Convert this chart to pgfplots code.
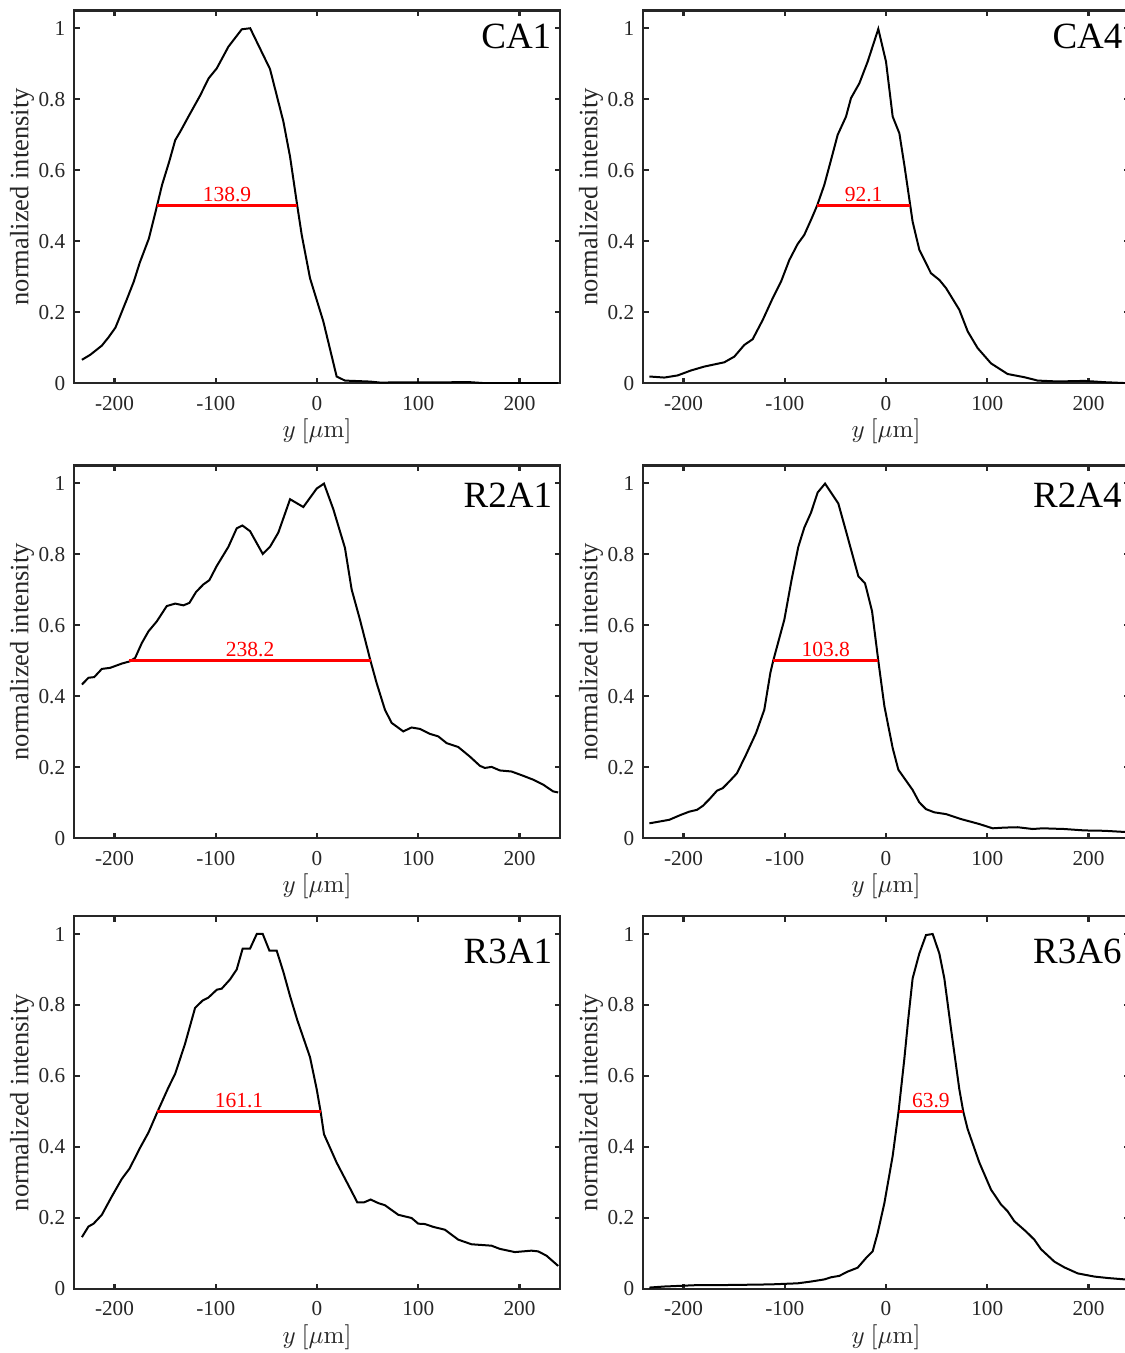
\documentclass[border=0pt]{standalone}
\usepackage[no-math]{fontspec}
\setmainfont{Liberation Serif}
\usepackage{pgfplots}
\pgfplotsset{compat=1.18}
\definecolor{axgray}{rgb}{0.15,0.15,0.15}
\pgfplotsset{
  panel/.style={
    scale only axis, width=194.4pt, height=149.1pt, anchor=south west,
    xmin=-240, xmax=240, ymin=0, ymax=1.05,
    xtick={-200,-100,0,100,200}, xticklabels={-200,-100,0,100,200},
    ytick={0,0.2,0.4,0.6,0.8,1}, yticklabels={0,0.2,0.4,0.6,0.8,1},
    tick align=inside, tick pos=both, major tick length=2.2pt,
    axis line style={axgray, line width=0.9pt},
    every tick/.style={axgray, line width=0.9pt},
    tick label style={font=\fontsize{8.5}{10}\selectfont, text=axgray},
    xticklabel style={yshift=-1.6pt},
    xlabel={$y\ [\mu\mathrm{m}]$},
    xlabel style={at={(axis description cs:0.5,-0.129)}, anchor=center, font=\fontsize{9.7}{11}\selectfont, text=axgray},
    ylabel={normalized intensity},
    ylabel style={at={(axis description cs:-0.107,0.5)}, anchor=center, font=\fontsize{10.6}{12}\selectfont, text=axgray},
  },
  curve/.style={black, line width=0.8pt, no markers, sharp plot},
  fwhm/.style={red, line width=1.1pt, no markers},
}
\tikzset{ttlnode/.style={anchor=base west, inner sep=0pt, font=\fontsize{14.8}{17}\selectfont}}
\newcommand{\lbl}{\fontsize{8.6}{10}\selectfont}
\begin{document}
\begin{tikzpicture}
\useasboundingbox (0,0) rectangle (450pt,541.2pt);
\clip (0,0) rectangle (450pt,541.2pt);
% ---------------- CA1
\begin{axis}[panel, at={(29.6pt,387.9pt)}]
\addplot[curve] coordinates {(-232.2,0.066)(-224,0.080)(-212.5,0.106)(-206,0.129)(-199,0.157)(-188,0.235)(-181,0.286)(-175,0.340)(-166,0.408)(-158,0.5)(-153,0.559)(-146,0.624)(-140,0.685)(-135,0.709)(-127,0.751)(-115.5,0.810)(-107,0.859)(-99,0.887)(-87.5,0.948)(-74.3,0.997)(-66,1.0)(-46.4,0.885)(-33.2,0.737)(-26.6,0.638)(-19.6,0.502)(-15.1,0.418)(-6.9,0.296)(6.25,0.174)(19.4,0.019)(27.6,0.0075)(52.3,0.0047)(62,0.002)(151,0.003)(167,0)(238,0)};
\addplot[fwhm] coordinates {(-158.3,0.5)(-19.4,0.5)};
\node[red, anchor=base, font=\lbl] at (axis cs:-88.85,0.512) {138.9};
\node[ttlnode] at (axis cs:161.8,0.942) {CA1};
\end{axis}
% ---------------- CA4
\begin{axis}[panel, at={(257.2pt,387.9pt)}]
\addplot[curve] coordinates {(-233.7,0.019)(-219,0.016)(-205.8,0.022)(-192.6,0.036)(-179.4,0.047)(-159.7,0.059)(-149.8,0.075)(-139.9,0.108)(-131.7,0.124)(-121.8,0.178)(-112,0.239)(-103.7,0.286)(-95.5,0.347)(-87.3,0.392)(-80.7,0.418)(-74.1,0.460)(-68.1,0.5)(-60.9,0.559)(-54.3,0.629)(-47.7,0.700)(-39.5,0.751)(-34.6,0.803)(-26.3,0.845)(-18.1,0.906)(-7.6,0.998)(0,0.906)(6.6,0.751)(13.2,0.704)(18.1,0.615)(24,0.5)(26.3,0.455)(32.9,0.376)(44.4,0.310)(52.7,0.291)(59.3,0.268)(72.4,0.207)(80.7,0.146)(90.5,0.099)(103.7,0.056)(120.1,0.026)(136.6,0.017)(149.8,0.0075)(169.5,0.005)(195.9,0.0066)(215.6,0.003)(240,0)};
\addplot[fwhm] coordinates {(-68.1,0.5)(24,0.5)};
\node[red, anchor=base, font=\lbl] at (axis cs:-22.05,0.512) {92.1};
\node[ttlnode] at (axis cs:164,0.942) {CA4};
\end{axis}
% ---------------- R2A1
\begin{axis}[panel, at={(29.6pt,205.9pt)}]
\addplot[curve] coordinates {(-232.2,0.433)(-225.7,0.452)(-220,0.454)(-212.5,0.477)(-204.3,0.480)(-192.8,0.492)(-185.2,0.498)(-179.6,0.508)(-173,0.550)(-166.4,0.583)(-158.2,0.611)(-148.4,0.654)(-140.1,0.661)(-131.9,0.656)(-126,0.663)(-119.4,0.694)(-112.2,0.715)(-106.3,0.727)(-99,0.767)(-87.5,0.821)(-79.3,0.873)(-73.7,0.881)(-66.1,0.865)(-53.6,0.801)(-46.4,0.821)(-38.2,0.861)(-26.6,0.955)(-13.5,0.933)(-0.3,0.985)(6.9,0.999)(16.1,0.927)(27.6,0.818)(34.2,0.701)(42.4,0.616)(53,0.498)(58.9,0.437)(67.1,0.362)(73.7,0.325)(85.2,0.301)(93.4,0.312)(101.6,0.308)(111.5,0.294)(119.7,0.287)(128,0.268)(139.5,0.257)(151,0.230)(160.9,0.204)(165.8,0.198)(172.4,0.201)(180.6,0.191)(192.1,0.188)(203.6,0.176)(213.5,0.165)(223.4,0.151)(233.2,0.132)(238.2,0.129)};
\addplot[fwhm] coordinates {(-185.2,0.5)(53,0.5)};
\node[red, anchor=base, font=\lbl] at (axis cs:-66.1,0.512) {238.2};
\node[ttlnode] at (axis cs:144.4,0.931) {R2A1};
\end{axis}
% ---------------- R2A4
\begin{axis}[panel, at={(257.2pt,205.9pt)}]
\addplot[curve] coordinates {(-233.7,0.042)(-214,0.052)(-202.5,0.066)(-194.2,0.075)(-186.7,0.080)(-181,0.091)(-174.4,0.110)(-166.9,0.134)(-161.3,0.141)(-154.7,0.160)(-147.2,0.183)(-138.3,0.235)(-128.4,0.296)(-120.2,0.362)(-114.2,0.466)(-111.4,0.5)(-100.4,0.616)(-93.2,0.729)(-86.6,0.821)(-80.7,0.875)(-74.1,0.917)(-67.5,0.974)(-60.2,0.999)(-47.1,0.943)(-39.5,0.865)(-27.3,0.738)(-20.7,0.718)(-13.8,0.640)(-7.6,0.5)(-1.6,0.372)(6.6,0.254)(12.2,0.193)(26.3,0.136)(32.9,0.101)(39.5,0.082)(47.7,0.073)(59.3,0.068)(74.1,0.054)(92.2,0.040)(105.3,0.028)(116.9,0.030)(130,0.031)(144.9,0.026)(154.7,0.028)(176.1,0.026)(195.9,0.022)(215.6,0.021)(240,0.017)};
\addplot[fwhm] coordinates {(-111.4,0.5)(-7.6,0.5)};
\node[red, anchor=base, font=\lbl] at (axis cs:-59.5,0.512) {103.8};
\node[ttlnode] at (axis cs:144.9,0.931) {R2A4};
\end{axis}
% ---------------- R3A1
\begin{axis}[panel, at={(29.6pt,25.6pt)}]
\addplot[curve] coordinates {(-232.2,0.146)(-225.7,0.176)(-220.7,0.184)(-212.5,0.209)(-202.6,0.261)(-192.8,0.310)(-185.2,0.339)(-174.7,0.398)(-166.4,0.441)(-157.6,0.499)(-146.7,0.568)(-140.1,0.606)(-130.3,0.691)(-120.4,0.792)(-112.8,0.813)(-107.2,0.821)(-99,0.843)(-94.1,0.846)(-85.9,0.872)(-79.3,0.900)(-73.4,0.959)(-66.1,0.959)(-59.5,1.0)(-53.6,1.0)(-47,0.953)(-39.8,0.953)(-33.2,0.893)(-26.6,0.825)(-19.4,0.757)(-6.9,0.653)(-0.3,0.563)(3.6,0.499)(6.9,0.436)(19.4,0.356)(34.2,0.275)(39.8,0.244)(46.4,0.244)(53,0.252)(60.5,0.242)(67.1,0.236)(80.3,0.209)(93.4,0.200)(100,0.184)(106.6,0.183)(114.8,0.175)(126.3,0.167)(139.5,0.139)(152.6,0.126)(172.4,0.122)(180.6,0.113)(195.4,0.104)(211.8,0.108)(218.4,0.106)(226.6,0.094)(238.2,0.065)};
\addplot[fwhm] coordinates {(-157.6,0.5)(3.5,0.5)};
\node[red, anchor=base, font=\lbl] at (axis cs:-77.05,0.512) {161.1};
\node[ttlnode] at (axis cs:144.4,0.918) {R3A1};
\end{axis}
% ---------------- R3A6
\begin{axis}[panel, at={(257.2pt,25.6pt)}]
\addplot[curve] coordinates {(-233.7,0.004)(-219,0.007)(-202.5,0.009)(-186,0.011)(-163,0.011)(-136.6,0.012)(-113.6,0.013)(-87.2,0.016)(-74.1,0.021)(-60.9,0.027)(-54.3,0.033)(-46.1,0.037)(-37.9,0.049)(-28,0.060)(-19.8,0.087)(-13.2,0.106)(-8.2,0.158)(-1.6,0.242)(6.6,0.375)(12.4,0.5)(18.1,0.648)(22,0.761)(26.3,0.875)(32.9,0.945)(39.5,0.997)(46.1,1.0)(52.7,0.945)(57.6,0.875)(64.2,0.733)(72.4,0.563)(76.3,0.5)(80.7,0.450)(92.2,0.356)(103.7,0.280)(113.6,0.238)(120.1,0.219)(126.7,0.191)(138.3,0.162)(146.5,0.139)(153.1,0.112)(166.3,0.077)(176.1,0.061)(189.3,0.044)(205.8,0.035)(218.9,0.031)(240,0.026)};
\addplot[fwhm] coordinates {(12.4,0.5)(76.3,0.5)};
\node[red, anchor=base, font=\lbl] at (axis cs:44.35,0.512) {63.9};
\node[ttlnode] at (axis cs:144.9,0.918) {R3A6};
\end{axis}
\end{tikzpicture}
\end{document}
